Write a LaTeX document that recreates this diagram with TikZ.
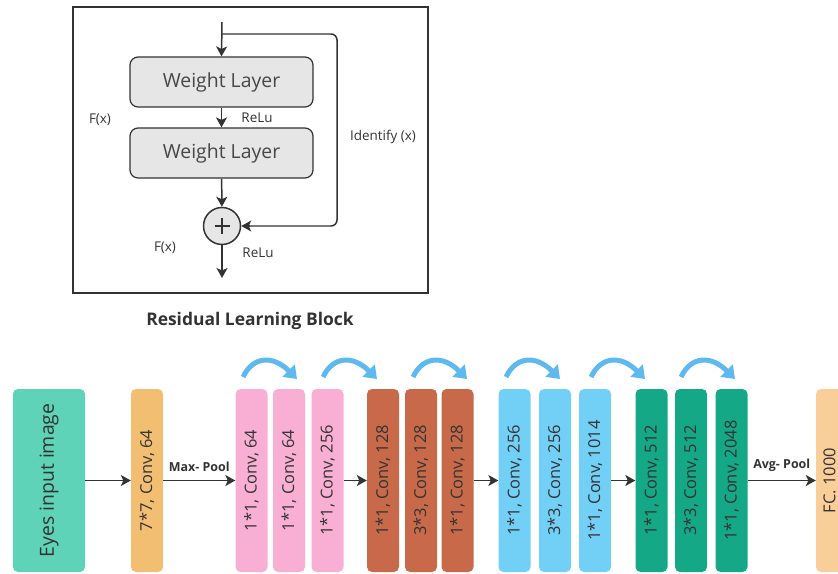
\documentclass[tikz,border=0pt]{standalone}
\usepackage{fontspec}
\setmainfont{Open Sans}
\usetikzlibrary{arrows.meta}
\definecolor{ink}{HTML}{333333}
\definecolor{teal}{HTML}{5ED3B8}
\definecolor{orng}{HTML}{F2BF72}
\definecolor{pinkc}{HTML}{F8AFD3}
\definecolor{brwn}{HTML}{C86A4A}
\definecolor{bluec}{HTML}{72CFF6}
\definecolor{grn}{HTML}{14A886}
\definecolor{fcc}{HTML}{F9CE98}
\definecolor{curv}{HTML}{5DB9EF}
\definecolor{wlfill}{HTML}{E6E6E6}
\tikzset{
  arr/.style={draw=ink, line width=1.5pt, -{Stealth[length=10pt,width=11pt,inset=2.5pt]}},
  wl/.style={draw=ink, line width=1.2pt, fill=wlfill, rounded corners=8bp, minimum width=183bp, minimum height=50bp, font=\fontsize{19.5}{22}\selectfont, text=ink!90},
  lbl/.style={font=\fontsize{13.5}{16}\selectfont, text=ink},
  layer/.style={rotate=90, rounded corners=5bp, minimum width=183bp, minimum height=32bp, inner sep=0pt, font=\fontsize{16.5}{19}\selectfont, text=ink},
  curvarr/.style={draw=curv, line width=5pt, -{Triangle[length=12pt,width=17pt]}},
}
\begin{document}
\begin{tikzpicture}[x=1bp,y=-1bp]
\useasboundingbox (0,0) rectangle (838,574);
\clip (0,0) rectangle (838,574);
% ---------- residual block ----------
\draw[ink, line width=1.2pt] (73,7) rectangle (428,293);
\node[wl] (w1) at (221.5,82) {Weight Layer};
\node[wl] (w2) at (221.5,153) {Weight Layer};
\node[circle, draw=ink, line width=1.5pt, fill=wlfill, minimum size=37bp, inner sep=0pt] (plus) at (222,226) {};
\draw[ink, line width=2.6pt] ([xshift=-7.5bp]plus.center) -- ([xshift=7.5bp]plus.center);
\draw[ink, line width=2.6pt] ([yshift=-7.5bp]plus.center) -- ([yshift=7.5bp]plus.center);
\coordinate (in) at (222,22);
\coordinate (split) at (222,34);
\coordinate (corner) at (337,226);
\coordinate (out) at (222,278);
\draw[arr] (in) -- (w1.north);
\draw[ink, line width=1.5pt, rounded corners=6bp] (split) -| (corner) -- ([xshift=8bp]plus.east);
\draw[arr] ([xshift=9bp]plus.east) -- (plus.east);
\draw[arr] (w1) -- (w2);
\draw[arr] (w2) -- (plus);
\draw[arr] (plus) -- (out);
\node[lbl] (fx1) at (100,120) {F(x)};
\node[lbl] (relu1) at (257,118) {ReLu};
\node[lbl] (ident) at (383,137) {Identify (x)};
\node[lbl] (fx2) at (165,248) {F(x)};
\node[lbl] (relu2) at (258,253) {ReLu};
\node[font=\bfseries\fontsize{17.5}{20}\selectfont, text=ink] (title) at (250,321) {Residual Learning Block};
% ---------- network ----------
\node[layer, fill=teal, minimum height=72bp, font=\fontsize{19.5}{22}\selectfont] (eyes) at (49,480.5) {Eyes input image};
\node[layer, fill=orng] (c7) at (147,480.5) {7*7, Conv, 64};
\node[layer, fill=pinkc] (p1) at (251.5,480.5) {1*1, Conv, 64};
\node[layer, fill=pinkc] (p2) at (289,480.5) {1*1, Conv, 64};
\node[layer, fill=pinkc] (p3) at (327.5,480.5) {1*1, Conv, 256};
\node[layer, fill=brwn] (b1) at (383,480.5) {1*1, Conv, 128};
\node[layer, fill=brwn] (b2) at (421,480.5) {3*3, Conv, 128};
\node[layer, fill=brwn] (b3) at (457.5,480.5) {1*1, Conv, 128};
\node[layer, fill=bluec] (u1) at (514.5,480.5) {1*1, Conv, 256};
\node[layer, fill=bluec] (u2) at (555,480.5) {3*3, Conv, 256};
\node[layer, fill=bluec] (u3) at (595,480.5) {1*1, Conv, 1014};
\node[layer, fill=grn] (g1) at (651.5,480.5) {1*1, Conv, 512};
\node[layer, fill=grn] (g2) at (691,480.5) {3*3, Conv, 512};
\node[layer, fill=grn] (g3) at (731.5,480.5) {1*1, Conv, 2048};
\node[layer, fill=fcc, minimum height=38bp] (fc) at (835,480.5) {};
\node[rotate=90, font=\fontsize{16.5}{19}\selectfont, text=ink, inner sep=0pt] (fct) at (829.5,480.5) {FC. 1000};
\draw[arr] (eyes) -- (c7);
\draw[arr] (c7) -- node[above=5bp, font=\bfseries\fontsize{12.5}{15}\selectfont, text=ink] (maxp) {Max- Pool} (p1);
\draw[arr] (p3) -- (b1);
\draw[arr] (b3) -- (u1);
\draw[arr] (u3) -- (g1);
\draw[arr] (g3) -- node[above=5bp, font=\bfseries\fontsize{12.5}{15}\selectfont, text=ink] (avgp) {Avg- Pool} (fc);
% curved skip arrows
\foreach \x/\n in {243/a1,323/a2,413/a3,506/a4,591/a5,681/a6}{
  \coordinate (\n s) at (\x,377);
  \coordinate (\n e) at (\x+54,379);
  \draw[curvarr] (\n s) .. controls (\x+10,356) and (\x+30,355) .. (\n e);
}
\end{tikzpicture}
\end{document}
